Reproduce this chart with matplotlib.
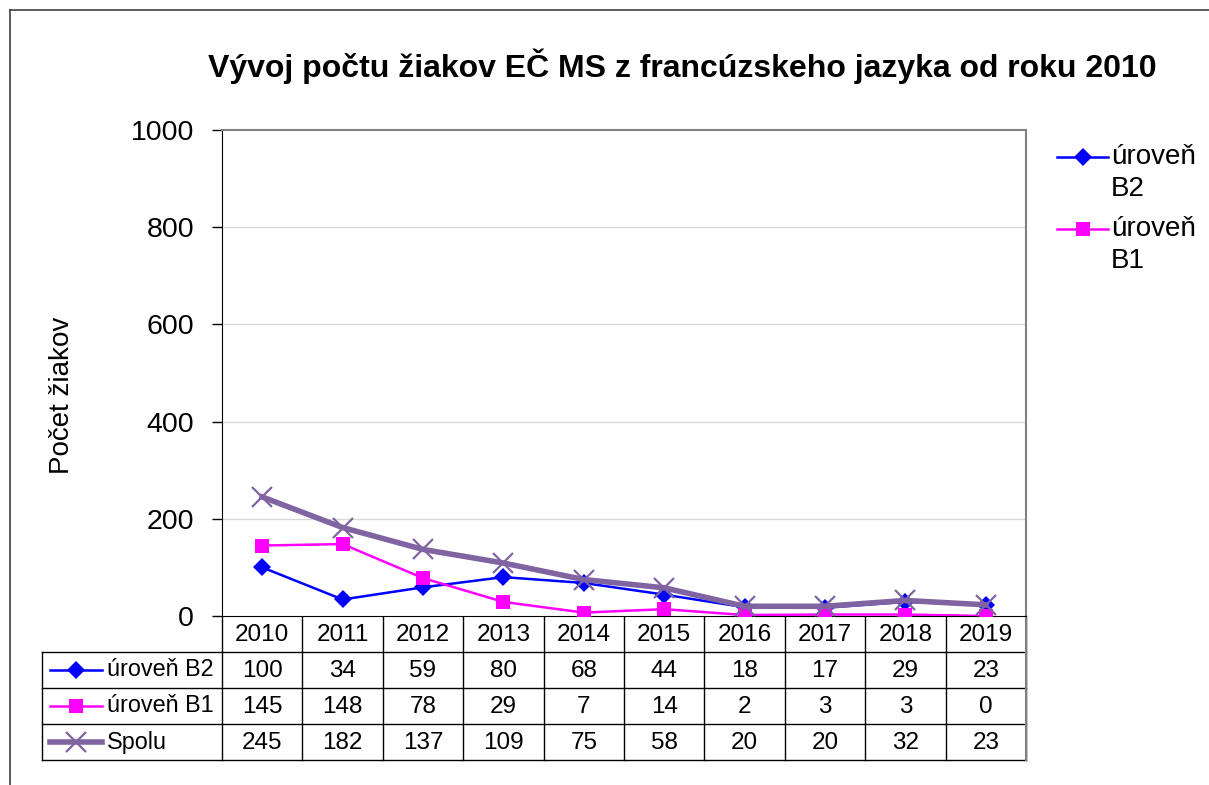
import matplotlib.pyplot as plt
from matplotlib.lines import Line2D
import numpy as np

plt.rcParams['font.family'] = ['Liberation Sans', 'DejaVu Sans']

# data
years = ['2010', '2011', '2012', '2013', '2014', '2015', '2016', '2017', '2018', '2019']
b2 = [100, 34, 59, 80, 68, 44, 18, 17, 29, 23]
b1 = [145, 148, 78, 29, 7, 14, 2, 3, 3, 0]
spolu = [245, 182, 137, 109, 75, 58, 20, 20, 32, 23]
y_ticks = [0, 200, 400, 600, 800, 1000]

title = 'Vývoj počtu žiakov EČ MS z francúzskeho jazyka od roku 2010'
ylabel = 'Počet žiakov'
names = ['úroveň B2', 'úroveň B1', 'Spolu']

# styles per series
styles = [
    dict(color='#0000FF', marker='D', ms=9.5, lw=1.8, mew=0, mec='#0000FF'),
    dict(color='#FF00FF', marker='s', ms=10, lw=1.8, mew=0, mec='#FF00FF'),
    dict(color='#8064A2', marker='x', ms=14, lw=4, mew=1.6, mec='#8064A2'),
]
series = [b2, b1, spolu]

W, H = 1209, 785
fig = plt.figure(figsize=(W / 100, H / 100), dpi=100)

# plot area in pixels
px0, px1, py0, py1 = 222, 1026, 130, 616
ax = fig.add_axes([px0 / W, 1 - py1 / H, (px1 - px0) / W, (py1 - py0) / H])

x = np.arange(len(years)) + 0.5
for vals, st in zip(series, styles):
    ax.plot(x, vals, color=st['color'], lw=st['lw'], marker=st['marker'],
            ms=st['ms'], mew=st['mew'], mec=st['mec'], mfc=st['color'],
            solid_joinstyle='round', zorder=3)

ax.set_xlim(0, len(years))
ax.set_ylim(0, 1000)
ax.set_yticks(y_ticks)
ax.set_yticklabels([str(t) for t in y_ticks], fontsize=20.5)
ax.set_xticks([])
ax.tick_params(axis='y', direction='out', length=7, width=1, pad=13)
for t in y_ticks[1:-1]:
    ax.axhline(t, color='#D9D9D9', lw=1, zorder=1)
ax.spines['top'].set_color('#808080')
ax.spines['right'].set_color('#808080')
ax.spines['top'].set_linewidth(1.5)
ax.spines['right'].set_linewidth(1.5)
ax.spines['left'].set_color('black')
ax.spines['bottom'].set_color('black')

# overlay in pixel coordinates for table, legend and border
ov = fig.add_axes([0, 0, 1, 1], zorder=-1)
ov.set_xlim(0, W)
ov.set_ylim(H, 0)
ov.axis('off')
ov.patch.set_alpha(0)

# outer chart border
ov.plot([10, W + 5], [10, 10], color='#404040', lw=1.2)
ov.plot([10, 10], [10, H + 5], color='#404040', lw=1.2)

# title and y label
fig.text(682 / W, 1 - 66 / H, title, ha='center', va='center',
         fontsize=23, fontweight='bold')
fig.text(62 / W, 1 - 395 / H, ylabel, ha='center', va='center',
         rotation=90, fontsize=20)

# data table
col_w = (px1 - px0) / len(years)
row_h = 36
tab_left = 42
rows_y = [py1 + row_h * i for i in range(5)]
tc = '#000000'
tfs = 17.5
# header row
ov.plot([px0, px1], [rows_y[1], rows_y[1]], color=tc, lw=1)
for i in range(len(years) + 1):
    xe = px0 + i * col_w
    ov.plot([xe, xe], [py1, rows_y[4]], color=tc, lw=1)
for i, yr in enumerate(years):
    ov.text(px0 + (i + 0.5) * col_w, rows_y[0] + row_h / 2 + 1, yr,
            ha='center', va='center', fontsize=tfs)
# data rows
for r in range(2, 5):
    ov.plot([tab_left, px1], [rows_y[r], rows_y[r]], color=tc, lw=1)
ov.plot([tab_left, px0], [rows_y[1], rows_y[1]], color=tc, lw=1)
ov.plot([tab_left, tab_left], [rows_y[1], rows_y[4]], color=tc, lw=1)
ov.plot([px1, px1], [rows_y[0], rows_y[4]], color='#808080', lw=1.5)
for r, (nm, vals, st) in enumerate(zip(names, series, styles)):
    yc = rows_y[r + 1] + row_h / 2
    ov.add_line(Line2D([50, 102], [yc, yc], color=st['color'], lw=st['lw']))
    ov.add_line(Line2D([76], [yc], marker=st['marker'], ms=st['ms'],
                       mew=st['mew'], mec=st['mec'], mfc=st['color'], ls='none'))
    ov.text(107, yc, nm, ha='left', va='center', fontsize=16.8)
    for i, v in enumerate(vals):
        ov.text(px0 + (i + 0.5) * col_w, yc + 1, str(v), ha='center',
                va='center', fontsize=tfs)

# legend (only the first two entries fit, as in the original)
leg_y = [157, 229]
for k in range(2):
    st = styles[k]
    yc = leg_y[k]
    ov.add_line(Line2D([1057, 1108], [yc, yc], color=st['color'], lw=st['lw']))
    ov.add_line(Line2D([1083], [yc], marker=st['marker'], ms=st['ms'],
                       mew=st['mew'], mec=st['mec'], mfc=st['color'], ls='none'))
    word, lvl = names[k].split(' ')
    ov.text(1111, yc, word, ha='left', va='center', fontsize=20)
    ov.text(1111, yc + 32, lvl, ha='left', va='center', fontsize=20)

fig.savefig('out.png', dpi=100)
